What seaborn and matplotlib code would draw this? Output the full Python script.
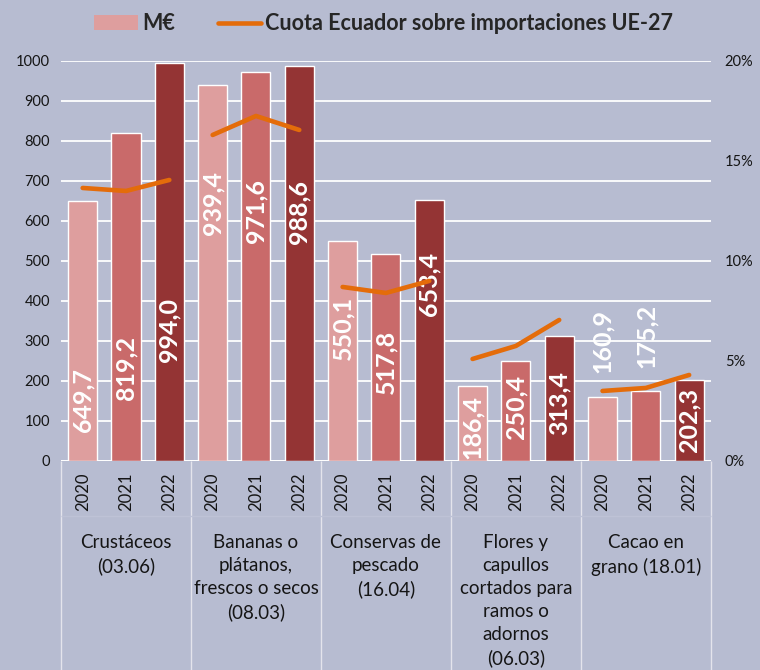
import pandas as pd
import matplotlib.pyplot as plt
import seaborn as sns
from matplotlib.patches import Patch
from matplotlib.lines import Line2D

# --- data ---
categories = [
    "Crustáceos\n(03.06)",
    "Bananas o\nplátanos,\nfrescos o secos\n(08.03)",
    "Conservas de\npescado\n(16.04)",
    "Flores y\ncapullos\ncortados para\nramos o\nadornos\n(06.03)",
    "Cacao en\ngrano (18.01)",
]
years = ["2020", "2021", "2022"]
values_2020 = [649.7, 939.4, 550.1, 186.4, 160.9]
values_2021 = [819.2, 971.6, 517.8, 250.4, 175.2]
values_2022 = [994.0, 988.6, 653.4, 313.4, 202.3]
share_2020 = [13.65, 16.3, 8.7, 5.1, 3.5]
share_2021 = [13.5, 17.25, 8.4, 5.75, 3.65]
share_2022 = [14.05, 16.55, 9.0, 7.05, 4.3]
# where the value labels sit (centre of the rotated text, in M€ units)
label_y_2020 = [152, 645, 332, 85, 300]
label_y_2021 = [232, 625, 247, 135, 312]
label_y_2022 = [327, 622, 442, 145, 102]

BG = "#B7BCD1"
bar_colors = ["#DE9E9E", "#C96A6A", "#943434"]
LINE = "#E46C0A"
TXT = "#151515"

sns.set_theme(style="white")
plt.rcParams["font.family"] = ["Lato", "DejaVu Sans"]

rows = []
for vals, yr in zip([values_2020, values_2021, values_2022], years):
    for c, v in zip(categories, vals):
        rows.append({"cat": c, "year": yr, "value": v})
df = pd.DataFrame(rows)

fig = plt.figure(figsize=(7.6, 6.7), dpi=100, facecolor=BG)
ax = fig.add_axes([0.0803, 0.312, 0.855, 0.597])
ax.set_facecolor(BG)

sns.barplot(data=df, x="cat", y="value", hue="year", order=categories,
            hue_order=years, palette=bar_colors, saturation=1, width=1.0,
            gap=0.33, legend=False, ax=ax, zorder=3)

ax.set_xlim(-0.5, len(categories) - 0.5)
ax.set_ylim(0, 1000)
ax.set_yticks(range(0, 1001, 100))
ax.yaxis.grid(True, color="white", linewidth=1.3, zorder=0)
ax.set_axisbelow(True)
for s in ax.spines.values():
    s.set_visible(False)
ax.set_xlabel("")
ax.set_ylabel("")
ax.tick_params(axis="y", length=0, pad=8, labelsize=10.5, colors=TXT)

# bar centres from the drawn patches, category-major order
bars = sorted(ax.patches, key=lambda p: p.get_x())
centers = [p.get_x() + p.get_width() / 2 for p in bars]

# year labels under each bar
ax.set_xticks(centers, labels=years * len(categories))
ax.tick_params(axis="x", length=0, pad=8.5, labelsize=12,
               labelrotation=90, colors=TXT)

# category labels under the years
for i, cat in enumerate(categories):
    ax.text(i, -0.183, cat, transform=ax.get_xaxis_transform(), ha="center",
            va="top", fontsize=13.5, color=TXT, linespacing=1.42,
            clip_on=False)

# table-like separators under the axis
ax.axhline(0, color="white", linewidth=1.3, zorder=1)
ax.vlines([i - 0.5 for i in range(len(categories) + 1)], -0.53, 0,
          transform=ax.get_xaxis_transform(), colors="#E4E4EC",
          linewidth=1.0, clip_on=False)
ax.hlines(-0.1375, -0.5, len(categories) - 0.5,
          transform=ax.get_xaxis_transform(), colors="#BEC2D6",
          linewidth=1.0, clip_on=False)

# value labels
label_vals = [values_2020, values_2021, values_2022]
label_ys = [label_y_2020, label_y_2021, label_y_2022]
for ci in range(len(categories)):
    for yi in range(len(years)):
        x = centers[ci * 3 + yi]
        txt = f"{label_vals[yi][ci]:.1f}".replace(".", ",")
        ax.text(x, label_ys[yi][ci], txt, rotation=90, ha="center",
                va="center", color="white", fontsize=18, fontweight="bold",
                zorder=5)

# share line on the right axis, one segment per category
ax2 = ax.twinx()
ax2.set_ylim(0, 20)
ax2.set_yticks([0, 5, 10, 15, 20], labels=["0%", "5%", "10%", "15%", "20%"])
ax2.tick_params(axis="y", length=0, pad=10, labelsize=10.5, colors=TXT)
for s in ax2.spines.values():
    s.set_visible(False)
ax2.grid(False)
shares = [share_2020, share_2021, share_2022]
for ci in range(len(categories)):
    xs = centers[ci * 3: ci * 3 + 3]
    ys = [shares[yi][ci] for yi in range(3)]
    ax2.plot(xs, ys, color=LINE, linewidth=3.3, solid_capstyle="round",
             solid_joinstyle="round", zorder=6)

handles = [Patch(facecolor=bar_colors[0], edgecolor="none"),
           Line2D([], [], color=LINE, linewidth=3.3)]
fig.legend(handles, ["M€", "Cuota Ecuador sobre importaciones UE-27"],
           loc="center", bbox_to_anchor=(0.505, 0.965), ncol=2, frameon=False,
           prop={"weight": "bold", "size": 15.5}, handlelength=2.0,
           handleheight=0.65, handletextpad=0.2, columnspacing=2.0)

fig.savefig("out.png", dpi=100, facecolor=BG)
